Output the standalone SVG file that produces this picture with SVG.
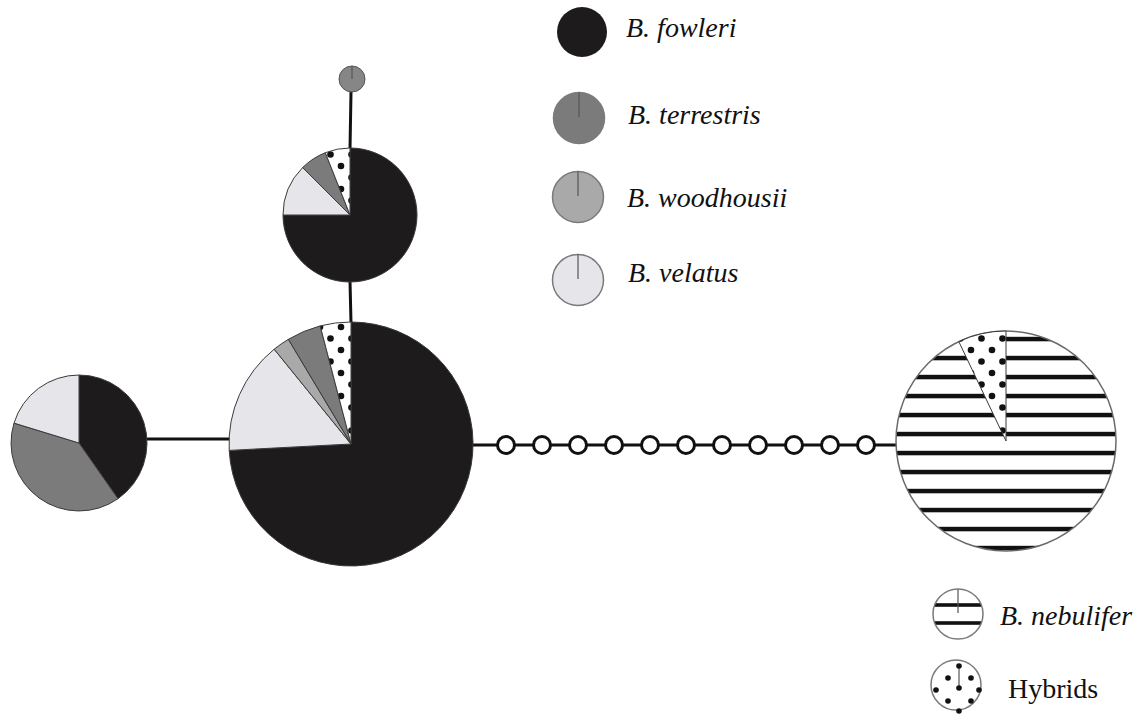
<svg xmlns="http://www.w3.org/2000/svg" width="1138" height="717" viewBox="0 0 1138 717">
<defs>
<style>
.fow{fill:#1e1b1c;stroke:#3a3a3a;stroke-width:1}
.ter{fill:#7b7b7b;stroke:#3a3a3a;stroke-width:1}
.woo{fill:#a9a9a9;stroke:#3a3a3a;stroke-width:1}
.vel{fill:#e6e6ea;stroke:#3a3a3a;stroke-width:1}
.hyb{fill:url(#dots);stroke:#3a3a3a;stroke-width:1}
.neb{fill:url(#stripes);stroke:#6a6a6a;stroke-width:1.5}
.conn{stroke:#111;stroke-width:3;fill:none}
.bead{fill:#fff;stroke:#111;stroke-width:3}
.lg{stroke:#7a7a7a;stroke-width:1.5}
.tick{stroke:#555;stroke-width:1.2}
.lab{font-family:"Liberation Serif","Times New Roman",serif;font-size:28px;font-style:italic;fill:#111}
.labn{font-family:"Liberation Serif","Times New Roman",serif;font-size:28px;fill:#111}
</style>
<pattern id="dots" patternUnits="userSpaceOnUse" width="21" height="23">
<rect width="21" height="23" fill="#fff"/>
<circle cx="5" cy="5" r="3.3" fill="#111"/>
<circle cx="15.5" cy="16.5" r="3.3" fill="#111"/>
</pattern>
<pattern id="stripes" patternUnits="userSpaceOnUse" width="40" height="19">
<rect width="40" height="19" fill="#fff"/>
<rect y="13.8" width="40" height="4.5" fill="#111"/>
</pattern>
<clipPath id="nebclip"><circle cx="958" cy="614" r="25"/></clipPath>
</defs>

<g id="connectors">
<line class="conn" x1="351" y1="92" x2="350" y2="149"/>
<line class="conn" x1="350" y1="281" x2="351" y2="323"/>
<line class="conn" x1="146" y1="439" x2="231" y2="439"/>
<line class="conn" x1="472" y1="445" x2="897" y2="445"/>
<g id="beads">
<circle class="bead" cx="506" cy="445" r="8.5"/>
<circle class="bead" cx="542" cy="445" r="8.5"/>
<circle class="bead" cx="578" cy="445" r="8.5"/>
<circle class="bead" cx="614" cy="445" r="8.5"/>
<circle class="bead" cx="650" cy="445" r="8.5"/>
<circle class="bead" cx="686" cy="445" r="8.5"/>
<circle class="bead" cx="722" cy="445" r="8.5"/>
<circle class="bead" cx="758" cy="445" r="8.5"/>
<circle class="bead" cx="794" cy="445" r="8.5"/>
<circle class="bead" cx="830" cy="445" r="8.5"/>
<circle class="bead" cx="866" cy="445" r="8.5"/>
</g>
</g>

<g id="node-small-top">
<circle cx="352" cy="79" r="13" fill="#868686" stroke="#555" stroke-width="1"/>
<line class="tick" x1="352" y1="66" x2="352" y2="79"/>
</g>

<g id="node-top-pie">
<path class="fow" d="M350,215 L350,148 A67,67 0 1 1 283,215 Z"/>
<path class="vel" d="M350,215 L283,215 A67,67 0 0 1 302.6,167.6 Z"/>
<path class="ter" d="M350,215 L302.6,167.6 A67,67 0 0 1 325.3,152.7 Z"/>
<path class="hyb" d="M350,215 L325.3,152.7 A67,67 0 0 1 350,148 Z"/>
</g>

<g id="node-big-pie">
<path class="fow" d="M351,444 L351,322 A122,122 0 1 1 229.2,450.4 Z"/>
<path class="vel" d="M351,444 L229.2,450.4 A122,122 0 0 1 274.2,349.2 Z"/>
<path class="woo" d="M351,444 L274.2,349.2 A122,122 0 0 1 288.4,339.3 Z"/>
<path class="ter" d="M351,444 L288.4,339.3 A122,122 0 0 1 320.2,325.9 Z"/>
<path class="hyb" d="M351,444 L320.2,325.9 A122,122 0 0 1 351,322 Z"/>
</g>

<g id="node-left-pie">
<path class="fow" d="M79,443 L79,375 A68,68 0 0 1 118,498.7 Z"/>
<path class="ter" d="M79,443 L118,498.7 A68,68 0 0 1 14,423.1 Z"/>
<path class="vel" d="M79,443 L14,423.1 A68,68 0 0 1 79,375 Z"/>
</g>

<g id="node-right-pie">
<circle class="neb" cx="1006" cy="441" r="110"/>
<path class="hyb" d="M1006,441 L958.8,341.6 A110,110 0 0 1 1006,331 Z"/>
</g>

<g id="legend-fowleri">
<circle cx="582" cy="32" r="25" fill="#1e1b1c"/>
<text class="lab" x="626" y="37">B. fowleri</text>
</g>
<g id="legend-terrestris">
<circle class="lg" cx="579" cy="118" r="25.5" fill="#7b7b7b"/>
<line class="tick" x1="579" y1="92.5" x2="579" y2="117"/>
<text class="lab" x="628" y="124">B. terrestris</text>
</g>
<g id="legend-woodhousii">
<circle class="lg" cx="578" cy="197" r="25.5" fill="#a9a9a9"/>
<line class="tick" x1="578" y1="171.5" x2="578" y2="196"/>
<text class="lab" x="627" y="207">B. woodhousii</text>
</g>
<g id="legend-velatus">
<circle class="lg" cx="578" cy="280" r="25.5" fill="#e6e6ea"/>
<line class="tick" x1="578" y1="254.5" x2="578" y2="279"/>
<text class="lab" x="628" y="282">B. velatus</text>
</g>
<g id="legend-nebulifer">
<circle cx="958" cy="614" r="25" fill="#fff"/>
<g clip-path="url(#nebclip)">
<rect x="930" y="603.2" width="60" height="3.6" fill="#111"/>
<rect x="930" y="621.2" width="60" height="3.6" fill="#111"/>
</g>
<line class="tick" x1="958" y1="589" x2="958" y2="613"/>
<circle cx="958" cy="614" r="25" fill="none" stroke="#7a7a7a" stroke-width="1.5"/>
<text class="lab" x="1000" y="625">B. nebulifer</text>
</g>
<g id="legend-hybrids">
<circle class="lg" cx="956" cy="685" r="25" fill="#fff"/>
<line class="tick" x1="959" y1="667" x2="959" y2="687"/>
<g fill="#111">
<circle cx="959" cy="666" r="2.8"/>
<circle cx="948" cy="678" r="2.8"/>
<circle cx="971" cy="678" r="2.8"/>
<circle cx="959" cy="688" r="2.8"/>
<circle cx="936" cy="690" r="2.8"/>
<circle cx="979" cy="690" r="2.8"/>
<circle cx="948" cy="701" r="2.8"/>
<circle cx="971" cy="701" r="2.8"/>
<circle cx="959" cy="711" r="2.8"/>
</g>
<text class="labn" x="1008" y="698">Hybrids</text>
</g>
</svg>
